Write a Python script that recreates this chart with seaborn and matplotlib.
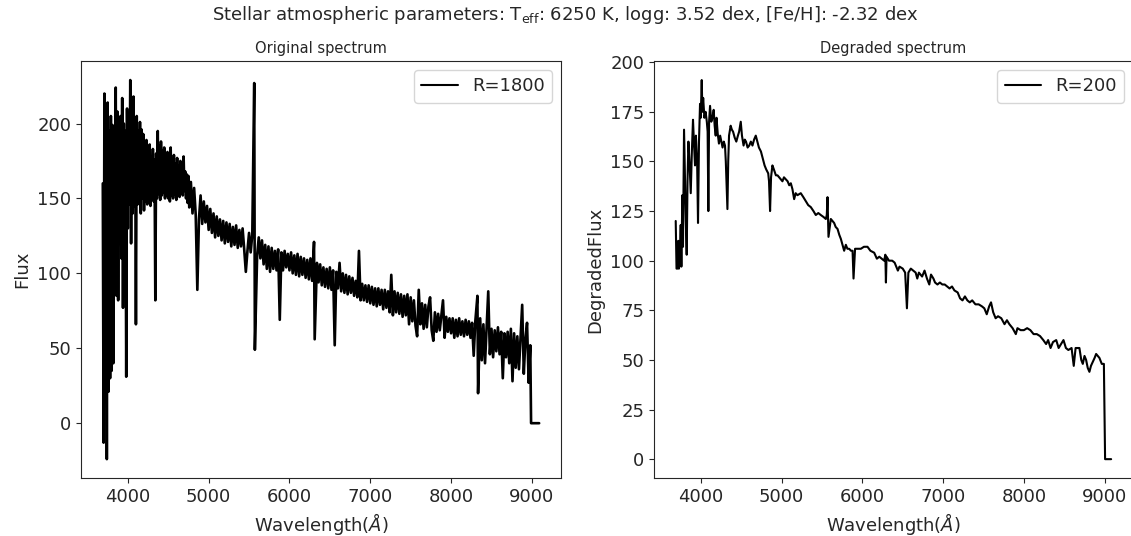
import matplotlib
matplotlib.use("Agg")
import matplotlib.pyplot as plt
import seaborn as sns

# --- Original spectrum (R=1800) ---
orig_wave = [
    3690, 3700, 3710, 3720, 3730, 3740, 3750, 3760, 3770, 3780,
    3790, 3800, 3810, 3820, 3830, 3840, 3850, 3860, 3870, 3880,
    3890, 3900, 3910, 3920, 3930, 3940, 3950, 3960, 3970, 3980,
    3990, 4000, 4010, 4020, 4030, 4040, 4050, 4060, 4070, 4080,
    4090, 4100, 4110, 4120, 4130, 4140, 4150, 4160, 4170, 4180,
    4190, 4200, 4210, 4220, 4230, 4240, 4250, 4260, 4270, 4280,
    4290, 4300, 4310, 4320, 4330, 4340, 4350, 4360, 4370, 4380,
    4390, 4400, 4410, 4420, 4430, 4440, 4450, 4460, 4470, 4480,
    4490, 4500, 4510, 4520, 4530, 4540, 4550, 4560, 4570, 4580,
    4590, 4600, 4610, 4620, 4630, 4640, 4650, 4660, 4670, 4680,
    4690, 4700, 4710, 4720, 4730, 4740, 4750,
    4760, 4780, 4800, 4820, 4840, 4860, 4880, 4900, 4920, 4940,
    4960, 4980, 5000, 5020, 5040, 5060, 5080, 5100, 5120, 5140,
    5160, 5180, 5200, 5220, 5240, 5260, 5280, 5300, 5320, 5340,
    5360, 5380, 5400, 5420, 5440, 5460, 5480, 5500, 5520, 5540,
    5564, 5572, 5600, 5620, 5640, 5660, 5680, 5700, 5720, 5740,
    5760, 5780, 5800, 5820, 5840, 5860, 5880, 5900, 5920, 5940,
    5960, 5980, 6000, 6020, 6040, 6060, 6080, 6100, 6120, 6140,
    6160, 6180, 6200, 6220, 6240, 6260, 6280, 6304, 6312, 6340,
    6360, 6380, 6400, 6420, 6440, 6460, 6480, 6500, 6520, 6540,
    6560, 6580, 6600, 6620, 6640, 6660, 6680, 6700, 6720, 6740,
    6760, 6780, 6800, 6820, 6840, 6860, 6880, 6900, 6920, 6940,
    6960, 6980, 7000, 7020, 7040, 7060, 7080, 7100, 7120, 7140,
    7160, 7180, 7200, 7220, 7240, 7260, 7280, 7300, 7320, 7340,
    7360, 7380, 7400, 7420, 7440, 7460, 7480, 7500, 7520, 7540,
    7560, 7580, 7600, 7620, 7640, 7660, 7680, 7700, 7720, 7740,
    7760, 7780, 7800, 7820, 7840, 7860, 7880, 7900, 7920, 7940,
    7960, 7980, 8000, 8020, 8040, 8060, 8080, 8100, 8120, 8140,
    8160, 8180, 8200, 8220, 8240, 8260, 8280, 8300, 8326, 8334,
    8360, 8380, 8400, 8420, 8440, 8460, 8480, 8500, 8520, 8540,
    8560, 8580, 8600, 8620, 8640, 8660, 8680, 8700, 8720, 8740,
    8760, 8780, 8800, 8820, 8840, 8860, 8880, 8900, 8920, 8940,
    8960, 8980, 8990, 9090,
]
orig_flux = [
    160, -13, 220, 20, 200, -24, 214, 21, 195, 30,
    205, 35, 199, 40, 185, 95, 224, 85, 208, 82,
    190, 120, 205, 110, 217, 77, 200, 118, 195, 31,
    210, 130, 200, 146, 229, 120, 212, 140, 218, 145,
    200, 66, 205, 146, 195, 148, 201, 140, 196, 150,
    193, 142, 186, 148, 189, 146, 182, 152, 186, 145,
    178, 150, 183, 148, 176, 82, 180, 150, 195, 153,
    185, 149, 188, 152, 182, 154, 184, 150, 178, 152,
    181, 150, 175, 148, 184, 152, 176, 150, 179, 153,
    173, 149, 177, 153, 172, 151, 175, 154, 170, 152,
    178, 155, 168, 150, 166, 147, 165,
    144, 161, 140, 157, 139, 89, 136, 152, 133, 148,
    134, 145, 129, 143, 127, 140, 124, 138, 125, 136,
    122, 135, 120, 134, 121, 133, 118, 131, 119, 132,
    117, 129, 118, 130, 116, 101, 115, 127, 114, 126,
    227, 49, 112, 124, 110, 122, 106, 119, 103, 118,
    101, 117, 103, 115, 102, 116, 69, 114, 102, 115,
    104, 113, 102, 114, 100, 112, 99, 113, 98, 111,
    99, 110, 97, 109, 96, 110, 95, 121, 56, 107,
    94, 106, 92, 104, 91, 103, 90, 104, 89, 102,
    52, 101, 90, 107, 88, 100, 87, 99, 86, 98,
    87, 97, 85, 95, 84, 115, 82, 93, 82, 92,
    81, 92, 80, 91, 79, 90, 78, 90, 79, 89,
    76, 89, 77, 88, 74, 99, 72, 88, 74, 87,
    73, 86, 71, 85, 72, 86, 66, 84, 68, 82,
    65, 58, 89, 66, 80, 63, 79, 64, 78, 84,
    62, 55, 74, 61, 73, 62, 72, 82, 57, 71,
    61, 70, 60, 70, 57, 69, 58, 70, 59, 68,
    58, 69, 59, 68, 57, 67, 45, 68, 85, 20,
    70, 42, 66, 40, 64, 88, 46, 63, 44, 62,
    48, 64, 46, 61, 30, 60, 44, 61, 40, 63,
    28, 60, 37, 58, 36, 57, 79, 33, 56, 67,
    27, 52, 0, 0,
]

# --- Degraded spectrum (R=200) ---
deg_wave = [
    3690, 3700, 3712, 3722, 3730, 3740, 3752, 3760, 3772, 3780,
    3793, 3805, 3815, 3826, 3836, 3847, 3860, 3876, 3890, 3904,
    3915, 3929, 3940, 3955, 3966, 3978, 3991, 4000, 4012, 4020,
    4030, 4045, 4060, 4075, 4085, 4094, 4103, 4115, 4130, 4145,
    4160, 4172, 4185, 4195, 4210, 4225, 4240, 4255, 4270, 4285,
    4300, 4310, 4330, 4340, 4350, 4370, 4385, 4400, 4420, 4440,
    4460, 4475, 4495, 4510, 4530, 4545, 4560, 4580, 4600, 4620,
    4640, 4660, 4681, 4700, 4720, 4745, 4770, 4790, 4810, 4835,
    4845, 4858, 4870, 4887, 4905, 4930, 4950, 4970, 4990, 5011,
    5030, 5053, 5075, 5095, 5115, 5135, 5156, 5175, 5197, 5238,
    5270, 5300, 5330, 5362, 5395, 5424, 5455, 5486, 5520, 5548,
    5560, 5569, 5581, 5610, 5630, 5651, 5670, 5693, 5715, 5734,
    5755, 5775, 5796, 5815, 5837, 5860, 5879, 5891, 5910, 5940,
    5982, 6020, 6064, 6100, 6147, 6180, 6210, 6240, 6270, 6285,
    6292, 6300, 6330, 6370, 6400, 6440, 6460, 6500, 6530, 6552,
    6570, 6600, 6630, 6660, 6680, 6700, 6740, 6770, 6800, 6829,
    6850, 6880, 6900, 6930, 6960, 6990, 7020, 7050, 7080, 7110,
    7140, 7180, 7210, 7240, 7270, 7300, 7330, 7360, 7400, 7440,
    7480, 7510, 7540, 7570, 7593, 7620, 7650, 7680, 7720, 7760,
    7790, 7820, 7860, 7900, 7920, 7960, 8000, 8040, 8080, 8120,
    8160, 8200, 8240, 8275, 8300, 8330, 8360, 8400, 8430, 8460,
    8490, 8520, 8550, 8590, 8617, 8640, 8687, 8710, 8729, 8750,
    8770, 8790, 8811, 8830, 8853, 8875, 8894, 8915, 8935, 8964,
    8990, 9005, 9080,
]
deg_flux = [
    120, 96, 96, 110, 96, 100, 118, 97, 133, 107,
    166, 140, 120, 103, 140, 160, 150, 134, 155, 171,
    160, 148, 163, 150, 119, 160, 179, 172, 191, 175,
    182, 172, 175, 170, 165, 125, 170, 178, 170, 172,
    176, 168, 163, 172, 164, 159, 163, 160, 157, 160,
    158, 150, 126, 150, 163, 168, 166, 165, 162, 160,
    163, 165, 170, 163, 158, 161, 160, 157, 158, 160,
    158, 161, 163, 160, 157, 155, 151, 148, 146, 144,
    140, 125, 142, 148, 146, 143, 143, 142, 141, 140,
    142, 141, 140, 138, 139, 136, 131, 134, 133, 134,
    132, 130, 128, 127, 125, 123, 124, 123, 122, 121,
    123, 132, 112, 121, 120, 119, 117, 116, 113, 111,
    108, 105, 108, 106, 106, 105, 105, 91, 106, 106,
    106, 107, 107, 105, 104, 101, 102, 101, 100, 103,
    89, 102, 100, 100, 99, 95, 97, 96, 94, 76,
    94, 96, 95, 94, 91, 94, 92, 95, 91, 88,
    93, 91, 89, 88, 89, 88, 88, 87, 86, 87,
    85, 84, 81, 80, 82, 80, 79, 80, 78, 78,
    77, 76, 73, 77, 79, 74, 71, 72, 71, 68,
    70, 68, 66, 63, 66, 65, 65, 66, 65, 63,
    63, 62, 60, 58, 60, 56, 59, 60, 56, 58,
    60, 56, 55, 56, 47, 56, 56, 50, 48, 52,
    50, 46, 44, 47, 49, 51, 53, 52, 51, 48,
    48, 0, 0,
]

title_text = (r"Stellar atmospheric parameters: T$_{\mathrm{eff}}$: 6250 K, "
              r"logg: 3.52 dex, [Fe/H]: -2.32 dex")

sns.set_style("ticks")
plt.rcParams.update({
    "font.family": ["DejaVu Sans"],
    "font.size": 13,
    "axes.labelsize": 13,
    "xtick.labelsize": 13,
    "ytick.labelsize": 13,
    "legend.fontsize": 13,
    "axes.titlesize": 10.5,
})

fig = plt.figure(figsize=(11.31, 5.36), dpi=100)
ax1 = fig.add_axes([0.0716, 0.108, 0.4244, 0.778])
ax2 = fig.add_axes([0.5782, 0.108, 0.4235, 0.778])

# --- Original ---
sns.lineplot(x=orig_wave, y=orig_flux, ax=ax1, color="black", lw=1.9,
             label="R=1800", estimator=None, sort=False)
ax1.set_title("Original spectrum")
ax1.set_xlabel(r"Wavelength($\AA$)")
ax1.set_ylabel("Flux")
leg1 = ax1.legend(loc="upper right", frameon=True)
leg1.get_lines()[0].set_linewidth(1.5)

# --- Degraded ---
sns.lineplot(x=deg_wave, y=deg_flux, ax=ax2, color="black", lw=1.5,
             label="R=200", estimator=None, sort=False)
ax2.set_title("Degraded spectrum")
ax2.set_xlabel(r"Wavelength($\AA$)")
ax2.set_ylabel("DegradedFlux")
ax2.legend(loc="upper right", frameon=True)

fig.suptitle(title_text, y=0.972, va="center", fontsize=13)

fig.savefig("out.png", dpi=100)
